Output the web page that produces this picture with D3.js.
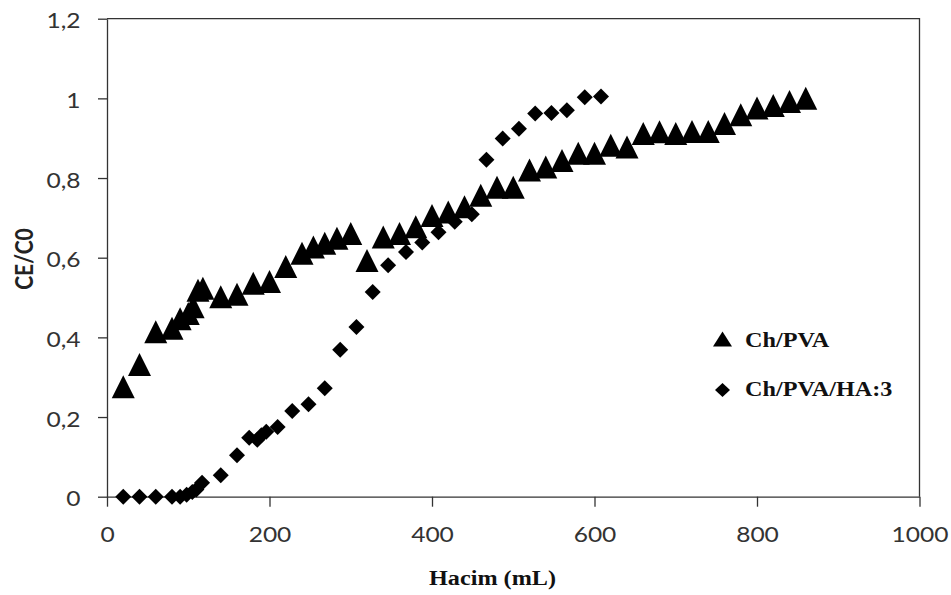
<!DOCTYPE html>
<html>
<head>
<meta charset="utf-8">
<script src="https://cdn.jsdelivr.net/npm/d3@7"></script>
<style>
  html, body { margin: 0; padding: 0; background: #fff; }
  svg { display: block; }
</style>
</head>
<body>
<svg id="chart" width="951" height="595"></svg>
<script>
// Breakthrough curves: effluent / initial concentration versus volume passed
const chPvaVolume = [20, 40, 60, 80, 90, 100, 106, 112, 118, 140, 160, 180, 200, 220, 240, 254, 268, 283, 300,
  320, 340, 360, 380, 400, 420, 440, 460, 480, 500, 520, 540, 560, 580, 600, 620, 640, 660, 680, 700,
  720, 740, 760, 780, 800, 820, 840, 860];
const chPvaRatio = [0.276, 0.332, 0.414, 0.423, 0.447, 0.46, 0.477, 0.518, 0.523, 0.502, 0.508, 0.536, 0.54, 0.578, 0.611, 0.627, 0.636, 0.649, 0.661,
  0.593, 0.652, 0.661, 0.678, 0.706, 0.715, 0.728, 0.757, 0.777, 0.777, 0.82, 0.828, 0.844, 0.862, 0.862, 0.882, 0.878, 0.912, 0.916, 0.912,
  0.917, 0.917, 0.937, 0.959, 0.976, 0.982, 0.992, 1.0];

const chPvaHaVolume = [20, 40, 60, 80, 90, 98, 105, 110, 117, 140, 160, 175, 185, 190, 196, 210, 228, 248, 268,
  287, 307, 327, 346, 368, 388, 408, 428, 449, 467, 487, 507, 527, 547, 566, 588, 608];
const chPvaHaRatio = [0, 0, 0, 0, 0, 0.005, 0.012, 0.018, 0.035, 0.054, 0.104, 0.148, 0.143, 0.154, 0.163, 0.175, 0.215, 0.232, 0.272,
  0.369, 0.426, 0.514, 0.581, 0.614, 0.638, 0.664, 0.69, 0.709, 0.846, 0.899, 0.924, 0.962, 0.963, 0.970, 1.003, 1.005];

const xTicks = [0, 200, 400, 600, 800, 1000];
const yTicks = [0, 0.2, 0.4, 0.6, 0.8, 1.0, 1.2];

const seriesNames = ["Ch/PVA", "Ch/PVA/HA:3"];
const xTitle = "Hacim (mL)";
const yTitle = "CE/C0";

// layout
const plot = { left: 107, right: 919.5, top: 18.7, bottom: 496.7 };
const stretch = 1.17;          // sans text is drawn slightly wide
const serifStretch = 1.1;
const axisColor = "#333";
const tickFont = "Lato, 'Open Sans', sans-serif";
const serifFont = "'Liberation Serif', 'Times New Roman', serif";

const svg = d3.select("#chart");
svg.append("rect").attr("width", 951).attr("height", 595).attr("fill", "#fff");

const x = d3.scaleLinear().domain([0, 1000]).range([plot.left, plot.right]);
const y = d3.scaleLinear().domain([0, 1.2]).range([plot.bottom, plot.top]);

const fmt = v => String(+v.toFixed(1)).replace(".", ",");

// plot frame (top and right edges)
svg.append("path")
  .attr("d", `M${x(0)},${y(1.2)}H${x(1000)}V${y(0)}`)
  .attr("fill", "none").attr("stroke", axisColor).attr("stroke-width", 1.3);

// axes
const yAxis = svg.append("g")
  .attr("transform", `translate(${plot.left},0)`)
  .call(d3.axisLeft(y).tickValues(yTicks).tickFormat(fmt).tickSize(9).tickSizeOuter(0));
const xAxis = svg.append("g")
  .attr("transform", `translate(0,${plot.bottom})`)
  .call(d3.axisBottom(x).tickValues(xTicks).tickFormat(fmt).tickSize(10).tickSizeOuter(0));

[xAxis, yAxis].forEach(g => {
  g.select(".domain").attr("stroke", axisColor).attr("stroke-width", 1.3);
  g.selectAll(".tick line").attr("stroke", axisColor).attr("stroke-width", 1.3);
  g.selectAll(".tick text")
    .attr("fill", "#333")
    .style("font-family", tickFont)
    .style("font-size", "21px");
});
yAxis.selectAll(".tick text")
  .attr("x", 0).attr("dy", "0.43em")
  .attr("text-anchor", "end")
  .attr("transform", `translate(-26.5,0) scale(${stretch},1)`);
xAxis.selectAll(".tick text")
  .attr("y", 0).attr("dy", 0)
  .attr("text-anchor", "middle")
  .attr("transform", `translate(0,45.5) scale(${stretch},1)`);

// axis titles
svg.append("text")
  .attr("transform", `translate(33,259) scale(${stretch},1) rotate(-90)`)
  .attr("text-anchor", "middle")
  .style("font-family", tickFont).style("font-size", "21px").style("font-weight", "bold")
  .attr("fill", "#222")
  .text(yTitle);

svg.append("text")
  .attr("transform", `translate(492.5,584.5) scale(${serifStretch},1)`)
  .attr("text-anchor", "middle")
  .style("font-family", serifFont).style("font-size", "22px").style("font-weight", "bold")
  .attr("fill", "#111")
  .text(xTitle);

// marker shapes, centred on the origin
const triangle = (w, h) => `M0,${-h / 2}L${w / 2},${h / 2}L${-w / 2},${h / 2}Z`;
const diamond = (w, h) => `M0,${-h / 2}L${w / 2},0L0,${h / 2}L${-w / 2},0Z`;

const triPts = chPvaVolume.map((v, i) => [v, chPvaRatio[i]]);
const diaPts = chPvaHaVolume.map((v, i) => [v, chPvaHaRatio[i]]);

svg.append("g").selectAll("path").data(triPts).join("path")
  .attr("d", triangle(23, 23))
  .attr("transform", d => `translate(${x(d[0])},${y(d[1])})`)
  .attr("fill", "#000");

svg.append("g").selectAll("path").data(diaPts).join("path")
  .attr("d", diamond(16, 16))
  .attr("transform", d => `translate(${x(d[0])},${y(d[1])})`)
  .attr("fill", "#000");

// legend
const legend = svg.append("g");
legend.append("path").attr("d", triangle(19, 15)).attr("transform", "translate(722.5,339)").attr("fill", "#000");
legend.append("path").attr("d", diamond(15, 14)).attr("transform", "translate(722.5,390)").attr("fill", "#000");
[[seriesNames[0], 347], [seriesNames[1], 395.5]].forEach(([name, base]) => {
  legend.append("text")
    .attr("transform", `translate(745,${base}) scale(${serifStretch},1)`)
    .style("font-family", serifFont).style("font-size", "22px").style("font-weight", "bold")
    .attr("fill", "#111")
    .text(name);
});
</script>
</body>
</html>
